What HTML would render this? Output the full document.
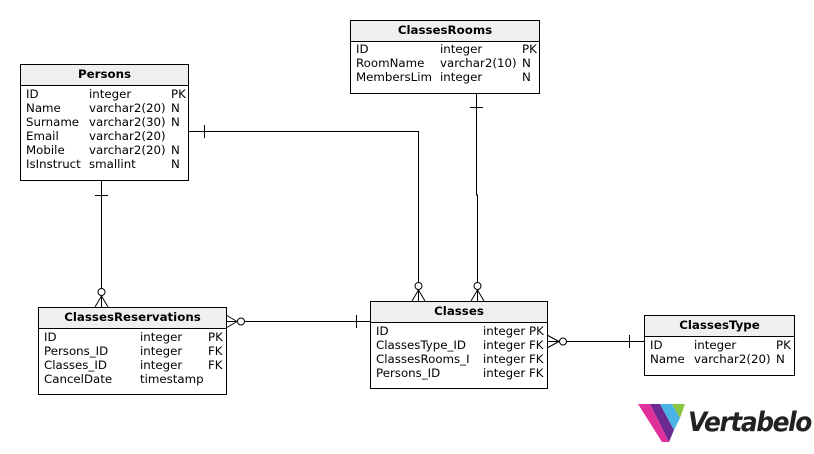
<!DOCTYPE html>
<html><head><style>
body{margin:0;width:814px;height:454px;background:#fff;position:relative;overflow:hidden;font-family:"DejaVu Sans",sans-serif;font-size:11.8px;color:#000}
.t{position:absolute;border:1px solid #000;background:#fff;box-sizing:border-box}
.h{height:20px;border-bottom:1px solid #000;background:#efefef;font-weight:bold;text-align:center;line-height:19px;font-size:11.8px}
.r{position:absolute;white-space:pre;line-height:14px}
svg{position:absolute;left:0;top:0}
</style></head><body>
<svg width="814" height="454" stroke="#000" fill="none" stroke-width="1">
<path d="M188 131.5H418.5V301"/><path d="M204.5 125v13"/>
<circle cx="418.5" cy="286" r="3.5" fill="#fff"/><path d="M418.5 290L412 301M418.5 290L425 301"/>
<path d="M476.5 93V195H477.5V301"/><path d="M470 107.5h13"/>
<circle cx="477.5" cy="286" r="3.5" fill="#fff"/><path d="M477.5 290L471 301M477.5 290L484 301"/>
<path d="M101.5 180V307"/><path d="M95 195.5h13"/>
<circle cx="101.5" cy="292" r="3.5" fill="#fff"/><path d="M101.5 296L95 307M101.5 296L108 307"/>
<path d="M226 321.5H370"/><path d="M356.5 315v13"/>
<circle cx="241" cy="321.5" r="3.5" fill="#fff"/><path d="M237 321.5L226 315M237 321.5L226 328"/>
<path d="M547 341.5H644"/><path d="M629.5 335v13"/>
<circle cx="563" cy="341.5" r="3.5" fill="#fff"/><path d="M559 341.5L547 335M559 341.5L547 348"/>
<g stroke="none">
<polygon points="638,404 650,404 669,442 662,442" fill="#e0309a"/>
<polygon points="650,404 660,404 674,430 669,442" fill="#6b2a8f"/>
<polygon points="660,404 672,404 680,418 674,430" fill="#4ab4e6"/>
<polygon points="672,404 685,404 680,418" fill="#8cc63f"/>
</g>
</svg>
<div style="position:absolute;left:688px;top:406px;font-size:27px;font-style:italic;font-weight:bold;color:#222;font-family:'DejaVu Sans',sans-serif;letter-spacing:-1.5px;line-height:34px;transform:scaleX(0.92);transform-origin:left top">Vertabelo</div>

<div class="t" style="left:20px;top:64px;width:169px;height:117px"><div class="h">Persons</div></div>
<div class="r" style="left:26px;top:87px">ID
Name
Surname
Email
Mobile
IsInstruct</div>
<div class="r" style="left:89px;top:87px">integer
varchar2(20)
varchar2(30)
varchar2(20)
varchar2(20)
smallint</div>
<div class="r" style="left:171px;top:87px">PK
N
N

N
N</div>

<div class="t" style="left:350px;top:20px;width:190px;height:74px"><div class="h">ClassesRooms</div></div>
<div class="r" style="left:356px;top:42px">ID
RoomName
MembersLim</div>
<div class="r" style="left:440px;top:42px">integer
varchar2(10)
integer</div>
<div class="r" style="left:522px;top:42px">PK
N
N</div>

<div class="t" style="left:38px;top:307px;width:189px;height:88px"><div class="h">ClassesReservations</div></div>
<div class="r" style="left:44px;top:330px">ID
Persons_ID
Classes_ID
CancelDate</div>
<div class="r" style="left:140px;top:330px">integer
integer
integer
timestamp</div>
<div class="r" style="left:208px;top:330px">PK
FK
FK</div>

<div class="t" style="left:370px;top:301px;width:178px;height:88px"><div class="h">Classes</div></div>
<div class="r" style="left:376px;top:324px">ID
ClassesType_ID
ClassesRooms_I
Persons_ID</div>
<div class="r" style="left:483px;top:324px">integer PK
integer FK
integer FK
integer FK</div>

<div class="t" style="left:644px;top:315px;width:151px;height:61px"><div class="h">ClassesType</div></div>
<div class="r" style="left:650px;top:338px">ID
Name</div>
<div class="r" style="left:694px;top:338px">integer
varchar2(20)</div>
<div class="r" style="left:776px;top:338px">PK
N</div>
</body></html>
